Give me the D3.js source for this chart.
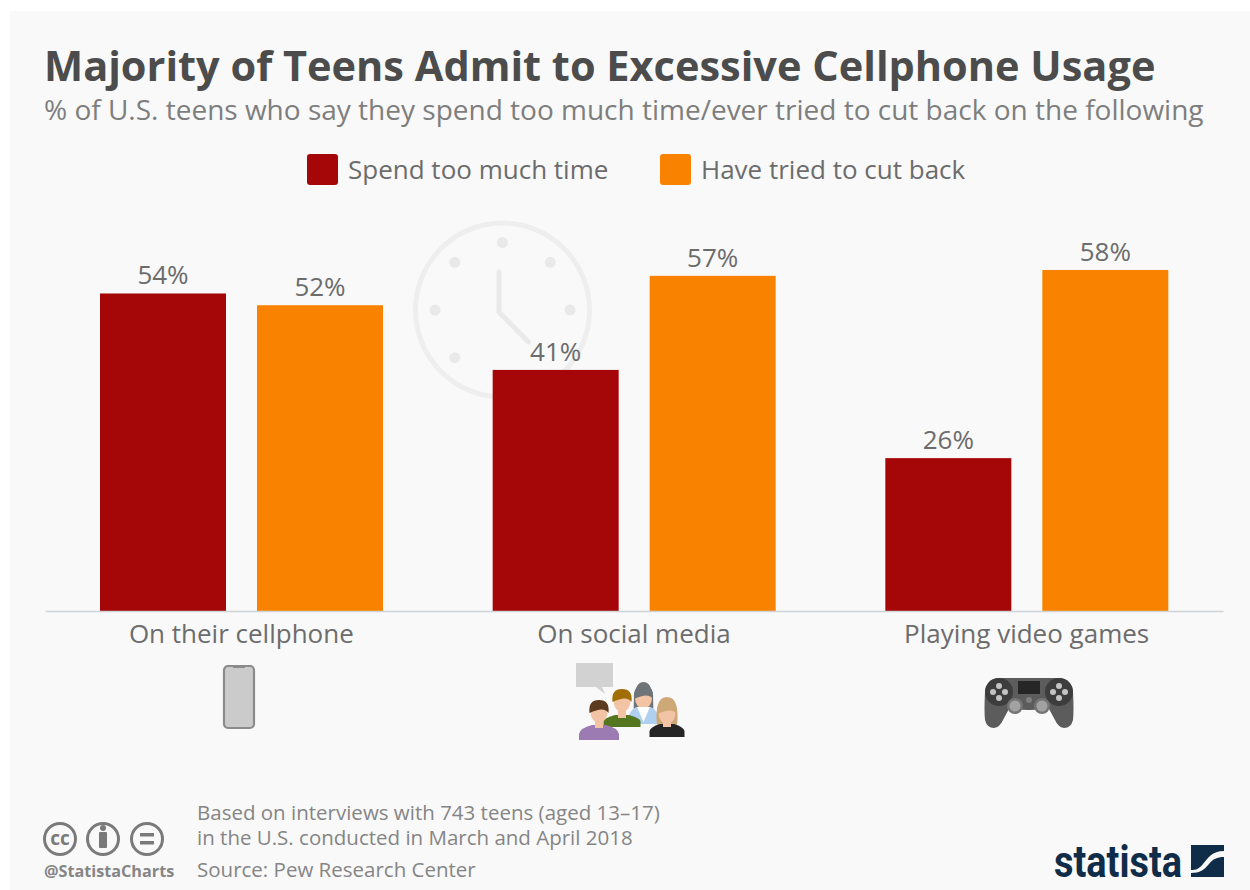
<!DOCTYPE html>
<html>
<head>
<meta charset="utf-8">
<script src="https://cdn.jsdelivr.net/npm/d3@7"></script>
<style>
html,body{margin:0;padding:0;background:#fff}
svg{display:block}
text{font-family:"Open Sans",sans-serif}
</style>
</head>
<body>
<svg id="chart" width="1250" height="890"></svg>
<script>
const categories = ["On their cellphone", "On social media", "Playing video games"];
const seriesNames = ["Spend too much time", "Have tried to cut back"];
const spendTooMuch = [54, 41, 26];
const triedToCutBack = [52, 57, 58];
const seriesColors = ["#a50709", "#f98200"];
const footnotes = ["Based on interviews with 743 teens (aged 13–17)", "in the U.S. conducted in March and April 2018"];
const sourceLine = "Source: Pew Research Center";

const svg = d3.select("#chart");
const textDark = "#4c4c4c", textMid = "#6c6c6c", textSoft = "#858585";

// Panel
svg.append("rect").attr("x", 10).attr("y", 11).attr("width", 1240).attr("height", 879).attr("fill", "#f9f9f9");

// Headline and subtitle
svg.append("text").attr("x", 44).attr("y", 80.5).attr("font-size", 41.5).attr("font-weight", 700)
  .attr("fill", textDark).text("Majority of Teens Admit to Excessive Cellphone Usage");
svg.append("text").attr("x", 44).attr("y", 120).attr("font-size", 28).attr("fill", "#7e7e7e")
  .text("% of U.S. teens who say they spend too much time/ever tried to cut back on the following");

// Legend
const legendX = [307, 660];
seriesNames.forEach((name, i) => {
  svg.append("rect").attr("x", legendX[i]).attr("y", 154).attr("width", 31).attr("height", 31).attr("rx", 3)
    .attr("fill", seriesColors[i]);
  svg.append("text").attr("x", legendX[i] + 41).attr("y", 179).attr("font-size", 26).attr("fill", textMid).text(name);
});

// Decorative clock behind the bars
const clock = svg.append("g").attr("transform", "translate(502.5,310)");
clock.append("circle").attr("r", 87).attr("fill", "none").attr("stroke", "#eeeeee").attr("stroke-width", 5);
d3.range(8).filter(i => i !== 3).forEach(i => {
  const a = i * Math.PI / 4;
  clock.append("circle").attr("cx", 67.5 * Math.sin(a)).attr("cy", -67.5 * Math.cos(a)).attr("r", 5.5).attr("fill", "#e9e9e9");
});
clock.append("path").attr("d", "M-3.5,-38V2L26,32").attr("fill", "none").attr("stroke", "#e9e9e9")
  .attr("stroke-width", 5).attr("stroke-linecap", "round").attr("stroke-linejoin", "round");

// Scales
const x0 = d3.scaleBand().domain(categories).range([45, 1223]);
const x1 = d3.scaleBand().domain(seriesNames).range([55, 338]).paddingInner(31 / 157);
const y = d3.scaleLinear().domain([0, 60]).range([611, 611 - 60 * 5.88]);

// Bars and value labels
const rows = categories.flatMap((c, i) => [
  { c, s: seriesNames[0], v: spendTooMuch[i], color: seriesColors[0] },
  { c, s: seriesNames[1], v: triedToCutBack[i], color: seriesColors[1] }
]);
svg.append("g").selectAll("rect").data(rows).join("rect")
  .attr("x", d => x0(d.c) + x1(d.s)).attr("y", d => y(d.v))
  .attr("width", x1.bandwidth()).attr("height", d => y(0) - y(d.v)).attr("fill", d => d.color);
svg.append("g").selectAll("text").data(rows).join("text")
  .attr("x", d => x0(d.c) + x1(d.s) + x1.bandwidth() / 2).attr("y", d => y(d.v) - 9)
  .attr("text-anchor", "middle").attr("font-size", 26).attr("fill", textMid).text(d => d.v + "%");

// Baseline and category axis
const axis = svg.append("g").attr("transform", `translate(0,${y(0)})`)
  .call(d3.axisBottom(x0).tickSize(0).tickPadding(12));
axis.select(".domain").attr("stroke", "#cfd4d6").attr("stroke-width", 1.5);
axis.selectAll("text").attr("font-size", 26).attr("fill", textMid)
  .style("font-family", '"Open Sans",sans-serif').attr("dy", "0.76em");

// Phone icon
const phone = svg.append("g").attr("transform", "translate(223,665)");
phone.append("rect").attr("x", 1).attr("y", 1).attr("width", 30).attr("height", 62).attr("rx", 4)
  .attr("fill", "#cbcbcb").attr("stroke", "#8b8b8b").attr("stroke-width", 2.2);
phone.append("rect").attr("x", 10).attr("y", 1).attr("width", 12).attr("height", 2).attr("fill", "#8b8b8b");

// People icon with speech bubble
const people = svg.append("g").attr("transform", "translate(560,655)");
const person = (cx, head, hair, body, hw, top, bottom) => {
  people.append("path").attr("d",
    `M${cx - hw},${bottom}V${bottom - 6}Q${cx - hw + 1},${top + 3} ${cx - 7},${top}H${cx + 7}Q${cx + hw - 1},${top + 3} ${cx + hw},${bottom - 6}V${bottom}Z`)
    .attr("fill", body);
  people.append("rect").attr("x", cx - 4).attr("y", head + 6).attr("width", 8).attr("height", top - head - 3).attr("fill", "#f2c3a4");
  people.append("ellipse").attr("cx", cx).attr("cy", head).attr("rx", 8.5).attr("ry", 11).attr("fill", "#f2c3a4");
  people.append("path").attr("d", `M${cx - 9.5},${head + 1}Q${cx - 11},${head - 12} ${cx},${head - 12}Q${cx + 11},${head - 12} ${cx + 9.5},${head + 1}Q${cx + 5},${head - 6} ${cx - 9.5},${head + 1}Z`)
    .attr("fill", hair);
};
people.append("path").attr("d", "M16,8H53V32H42L45,39L36,32H16Z").attr("fill", "#d2d2d2");
// back-right woman
people.append("path").attr("d", "M74,58Q72,27 83.5,27Q95,27 93,58Z").attr("fill", "#6f7478");
person(83.5, 43, "#6f7478", "#afd0ee", 15, 52, 69);
people.append("path").attr("d", "M77,52L83.5,67L90,52Z").attr("fill", "#ffffff");
// green-shirted man
person(62, 46, "#a16d05", "#54761f", 18.5, 60, 72);
// front-right woman
people.append("path").attr("d", "M97,71Q94,42 107,42Q120,42 117,71Z").attr("fill", "#cfa877");
person(107, 58, "#cfa877", "#252525", 17.5, 69, 82);
// front man
person(39, 57, "#5b3a1e", "#9b7bb2", 20, 70, 85);

// Game controller icon
const pad = svg.append("g").attr("transform", "translate(970,660)");
pad.append("path").attr("d", "M29,18L89,18Q101,18 103,32Q104,50 103,60Q101,68 94,68Q88,67 85,60L78,47Q70,50 60,50L58,50Q48,50 40,47L33,60Q30,67 24,68Q17,68 15,60Q14,50 15,32Q17,18 29,18Z")
  .attr("fill", "#5c5c5c");
[29, 89].forEach(cx => pad.append("circle").attr("cx", cx).attr("cy", 32).attr("r", 14).attr("fill", "#3d3d3d"));
pad.append("rect").attr("x", 48).attr("y", 21).attr("width", 22).attr("height", 13).attr("fill", "#262626");
[45, 72].forEach(cx => {
  pad.append("circle").attr("cx", cx).attr("cy", 46).attr("r", 8).attr("fill", "#757575");
  pad.append("circle").attr("cx", cx).attr("cy", 46).attr("r", 5.5).attr("fill", "#a2a2a2");
});
pad.append("circle").attr("cx", 59).attr("cy", 40).attr("r", 3).attr("fill", "#808080");
[[29, 26], [29, 38], [23, 32], [35, 32], [89, 26], [89, 38], [83, 32], [95, 32]].forEach(([cx, cy]) => {
  pad.append("circle").attr("cx", cx).attr("cy", cy).attr("r", 3).attr("fill", "#c4c4c4");
});

// Footer: licence badges
const badgeInk = "#7a7a7a";
const badges = svg.append("g").attr("transform", "translate(0,839)").attr("fill", "none").attr("stroke", badgeInk).attr("stroke-width", 3);
[60, 103, 147].forEach(cx => badges.append("circle").attr("cx", cx).attr("r", 15.5));
svg.append("text").attr("x", 60).attr("y", 845).attr("text-anchor", "middle").attr("font-size", 19).attr("font-weight", 700).attr("fill", badgeInk).text("cc");
svg.append("circle").attr("cx", 103).attr("cy", 828).attr("r", 3).attr("fill", badgeInk);
svg.append("rect").attr("x", 99).attr("y", 832).attr("width", 8).attr("height", 16).attr("rx", 1).attr("fill", badgeInk);
svg.append("rect").attr("x", 140).attr("y", 833).attr("width", 14).attr("height", 3.5).attr("fill", badgeInk);
svg.append("rect").attr("x", 140).attr("y", 841).attr("width", 14).attr("height", 3.5).attr("fill", badgeInk);
svg.append("text").attr("x", 44).attr("y", 877).attr("font-size", 16.2).attr("font-weight", 700).attr("fill", textSoft).text("@StatistaCharts");

// Footer: notes and source
footnotes.forEach((line, i) => {
  svg.append("text").attr("x", 197).attr("y", 819.5 + i * 25.5).attr("font-size", 20.5).attr("fill", textSoft).text(line);
});
svg.append("text").attr("x", 197).attr("y", 877).attr("font-size", 20.5).attr("fill", textSoft).text(sourceLine);

// Footer: publisher mark
svg.append("text").attr("x", 1054).attr("y", 877).attr("font-size", 45).attr("font-weight", 700)
  .attr("font-family", "Roboto").style("font-family", "Roboto").attr("textLength", 128).attr("lengthAdjust", "spacingAndGlyphs").attr("fill", "#0f2c48").text("statista");
svg.append("path").attr("d", "M1191,845H1224V851C1212,851 1208,858 1203,864C1199,869 1196,870 1191,870Z").attr("fill", "#0f2c48");
svg.append("path").attr("d", "M1224,857V877H1191V873C1200,873 1204,870 1209,864C1213,859 1217,857 1224,857Z").attr("fill", "#0f2c48");
</script>
</body>
</html>
